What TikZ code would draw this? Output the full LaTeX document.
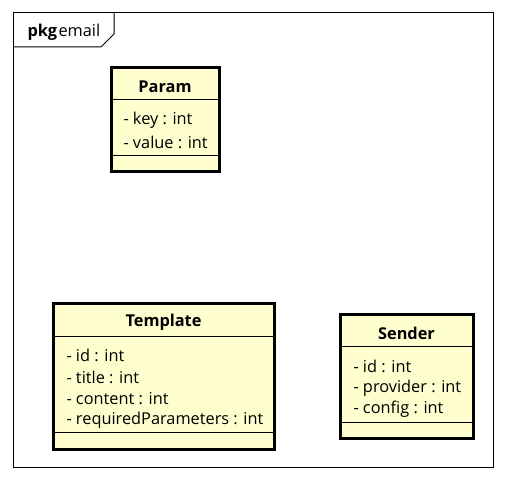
\documentclass[tikz,border=0pt]{standalone}
\usepackage{fontspec}
\setmainfont{Open Sans}
\definecolor{umlfill}{RGB}{254,254,206}
\tikzset{every picture/.style={line width=0.75pt}}
\tikzset{
  classbox/.style={draw, line width=2.25pt, fill=umlfill},
  sepline/.style={line width=0.75pt},
  attrtext/.style={anchor=west, inner sep=0.75pt, font=\fontsize{12.25}{14}\selectfont},
  nametext/.style={anchor=center, inner sep=0.75pt, font=\fontsize{12.25}{14}\selectfont\bfseries}
}
\begin{document}
\begin{tikzpicture}[x=0.75pt,y=0.75pt,yscale=-1,xscale=1]
    \useasboundingbox (0,0) rectangle (506,481);
    
    %Shape: Package frame
    \draw  (13,13) rectangle (493,467) ;
    \draw  (13,47) -- (101,47) -- (114,34) -- (114,13) ;
    % Text Node
    \node [anchor=base west, inner sep=0pt, font=\fontsize{12.25}{14}\selectfont] (pkglabel) at (27,37) {\textbf{pkg}\kern1pt email};
    
    %Shape: Rectangle Param
    \draw [classbox] (111,68) rectangle (219,171) ;
    \draw [sepline] (111,100) -- (219,100) ;
    \draw [sepline] (111,155) -- (219,155) ;
    % Text Node
    \node [nametext] (param) at (165,87) {Param};
    \node [attrtext] (paramkey) at (122,120.5) {- key : int};
    \node [attrtext] (paramvalue) at (122,142.5) {- value : int};
    
    %Shape: Rectangle Template
    \draw [classbox] (53,303) rectangle (274,449) ;
    \draw [sepline] (53,336) -- (274,336) ;
    \draw [sepline] (53,432) -- (274,432) ;
    % Text Node
    \node [nametext] (template) at (163.5,322) {Template};
    \node [attrtext] (templateid) at (65,355.5) {- id : int};
    \node [attrtext] (templatetitle) at (65,377) {- title : int};
    \node [attrtext] (templatecontent) at (65,398.5) {- content : int};
    \node [attrtext] (templatereq) at (65,420) {- requiredParameters : int};
    
    %Shape: Rectangle Sender
    \draw [classbox] (340,314) rectangle (473,438) ;
    \draw [sepline] (340,346) -- (473,346) ;
    \draw [sepline] (340,422) -- (473,422) ;
    % Text Node
    \node [nametext] (sender) at (406.5,333) {Sender};
    \node [attrtext] (senderid) at (352,366.5) {- id : int};
    \node [attrtext] (senderprovider) at (352,388) {- provider : int};
    \node [attrtext] (senderconfig) at (352,409.5) {- config : int};
    
\end{tikzpicture}
\end{document}
